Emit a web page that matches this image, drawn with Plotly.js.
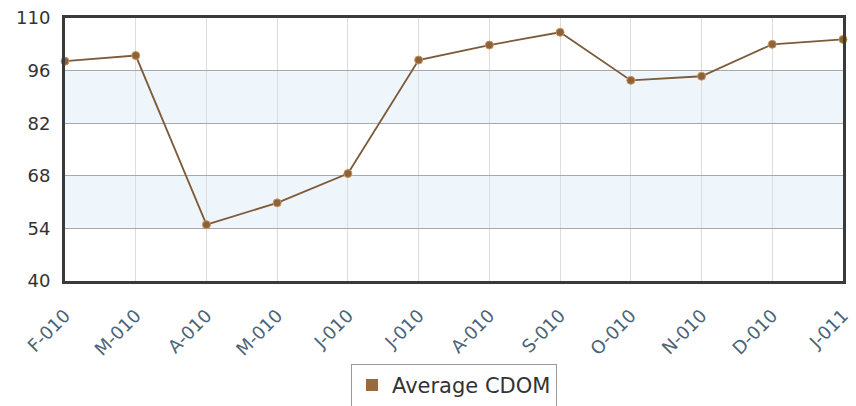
<!DOCTYPE html>
<html><head><meta charset="utf-8">
<script src="https://cdn.plot.ly/plotly-3.0.1.min.js"></script>
<style>html,body{margin:0;padding:0;background:#fff}#chart{width:856px;height:406px}</style>
</head><body><div id="chart"></div>
<script>
const categories = ["F-010","M-010","A-010","M-010","J-010","J-010","A-010","S-010","O-010","N-010","D-010","J-011"];
const avgCDOM = [98.5, 100, 55, 60.8, 68.6, 98.8, 102.8, 106.2, 93.4, 94.5, 103, 104.3];
const yTicks = [40, 54, 68, 82, 96, 110];
const seriesName = "Average CDOM";

const xIdx = categories.map((c, i) => i);
const brown = "#8c6239";

const shapes = [];
for (let i = 1; i < yTicks.length - 1; i += 2) {
  shapes.push({type:"rect", xref:"paper", yref:"y", x0:0, x1:1, y0:yTicks[i], y1:yTicks[i+1],
    fillcolor:"#eef5fb", line:{width:0}, layer:"below"});
}

const traces = [
  {x:xIdx, y:avgCDOM, mode:"lines+markers", name:seriesName, showlegend:false,
   line:{color:"#7d5a3a", width:1.8}, marker:{color:brown, size:8, line:{color:"#c9965e", width:1}},
   cliponaxis:false},
  {x:[null], y:[null], mode:"markers", name:seriesName, showlegend:true,
   marker:{color:"#9a6a3c", symbol:"square", size:12}}
];

const layout = {
  width:856, height:406,
  margin:{l:65, r:13, t:18, b:125, autoexpand:false},
  paper_bgcolor:"#fff", plot_bgcolor:"#fff",
  font:{family:"DejaVu Sans, sans-serif"},
  shapes:shapes,
  xaxis:{range:[0, categories.length-1], tickvals:xIdx, ticktext:categories, tickangle:-45,
    automargin:false,
    showgrid:true, gridcolor:"#dcdcdc", gridwidth:1,
    showline:true, mirror:true, linecolor:"#3a3a3a", linewidth:3,
    ticks:"", ticklabelstandoff:14, tickfont:{size:18, color:"#4a6478"}, zeroline:false},
  yaxis:{range:[40,110], tickvals:yTicks, automargin:false,
    showgrid:true, gridcolor:"#a8a8a8", gridwidth:1,
    showline:true, mirror:true, linecolor:"#3a3a3a", linewidth:3,
    ticks:"", ticklabelstandoff:8, tickfont:{size:18, color:"#333"}, zeroline:false},
  legend:{orientation:"h", x:0.5, xanchor:"center", y:-0.315, yanchor:"top",
    bordercolor:"#999", borderwidth:1, bgcolor:"#fff",
    font:{size:21, color:"#333"}}
};

Plotly.newPlot("chart", traces, layout, {displayModeBar:false, staticPlot:true});
</script>
</body></html>
